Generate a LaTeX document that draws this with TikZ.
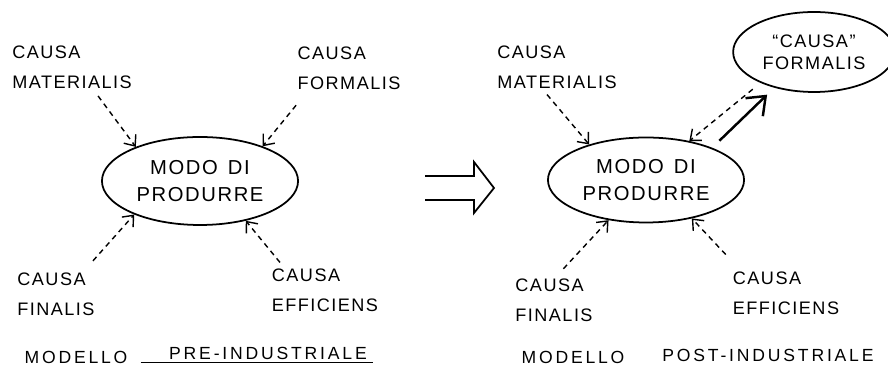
\documentclass[tikz,border=0pt]{standalone}
\usepackage{fontspec}
\setmainfont{Liberation Sans}[LetterSpace=8]
\usetikzlibrary{shapes.geometric,arrows.meta}

\begin{document}
\begin{tikzpicture}[
    causa/.style = {align=left, font=\fontsize{10.3}{17}\selectfont},
    modo/.style = {ellipse, draw, line width=1pt, align=center, font=\fontsize{11.5}{15}\selectfont},
    titolo/.style = {font=\fontsize{10}{12}\selectfont\addfontfeatures{LetterSpace=16}},
    tratteggio/.style = {dash pattern=on 3pt off 2.5pt, line width=0.8pt, -{Straight Barb[length=1.8mm, width=3mm]}},
    freccia/.style = {line width=1.4pt, -{Straight Barb[length=3.2mm, width=5mm]}}
  ]
      \useasboundingbox (0, 0) rectangle (17.76, 7.34);
      \node[modo, minimum width=3.06cm, minimum height=1.76cm] (Modo Pre) at (4.00, 3.72) {MODO\enspace DI\\PRODURRE};
      \node[causa] (Materialis Pre) at (1.44, 6.00) {CAUSA\\MATERIALIS};
      \node[causa] (Formalis Pre) at (6.98, 5.98) {CAUSA\\FORMALIS};
      \node[causa] (Finalis Pre) at (1.12, 1.46) {CAUSA\\FINALIS};
      \node[causa] (Efficiens Pre) at (6.50, 1.54) {CAUSA\\EFFICIENS};
      \draw[tratteggio, shorten <=1pt] ([xshift=0.5cm]Materialis Pre.south) -- (Modo Pre.152);
      \draw[tratteggio, shorten <=0.25cm] ([xshift=-0.9cm]Formalis Pre.south) -- (Modo Pre.29);
      \draw[tratteggio, shorten <=0.15cm] ([xshift=0.64cm]Finalis Pre.north) -- (Modo Pre.207);
      \draw[tratteggio] ([xshift=-0.9cm]Efficiens Pre.north) -- (Modo Pre.-41);
      \node[titolo] (Modello Pre) at (1.52, 0.20) {MODELLO};
      \node[titolo] (Tipo Pre) at (5.36, 0.27) {PRE-INDUSTRIALE};
      \draw[line width=0.8pt] ([xshift=-0.45cm, yshift=0.07cm]Tipo Pre.south west) -- ([yshift=0.07cm]Tipo Pre.south east);

      \draw[line width=1pt] (8.50, 3.82) -- (9.48, 3.82) -- (9.48, 4.10) -- (9.88, 3.58) -- (9.48, 3.08) -- (9.48, 3.34) -- (8.50, 3.34);

      \node[modo, minimum width=3.0cm, minimum height=1.7cm] (Modo Post) at (12.92, 3.74) {MODO\enspace DI\\PRODURRE};
      \node[modo, minimum width=2.96cm, minimum height=1.6cm, font=\fontsize{10.3}{12.5}\selectfont] (Formalis Post) at (16.28, 6.30) {``CAUSA''\\FORMALIS};
      \node[causa] (Materialis Post) at (11.14, 6.00) {CAUSA\\MATERIALIS};
      \node[causa] (Finalis Post) at (11.08, 1.34) {CAUSA\\FINALIS};
      \node[causa] (Efficiens Post) at (15.72, 1.48) {CAUSA\\EFFICIENS};
      \draw[tratteggio] ([xshift=-0.2cm]Materialis Post.south) -- (Modo Post.148);
      \draw[tratteggio, shorten <=0.1cm] ([xshift=0.12cm]Finalis Post.north) -- (Modo Post.227);
      \draw[tratteggio, shorten <=0.3cm] ([xshift=-1.0cm]Efficiens Post.north) -- (Modo Post.-40);
      \draw[tratteggio, shorten <=0.2cm] (Formalis Post.210) -- (Modo Post.42);
      \draw[freccia, shorten <=0.2cm, shorten >=0.2cm] (Modo Post.26) -- (Formalis Post.222);
      \node[titolo] (Modello Post) at (11.46, 0.20) {MODELLO};
      \node[titolo] (Tipo Post) at (15.36, 0.24) {POST-INDUSTRIALE};
\end{tikzpicture}
\end{document}
